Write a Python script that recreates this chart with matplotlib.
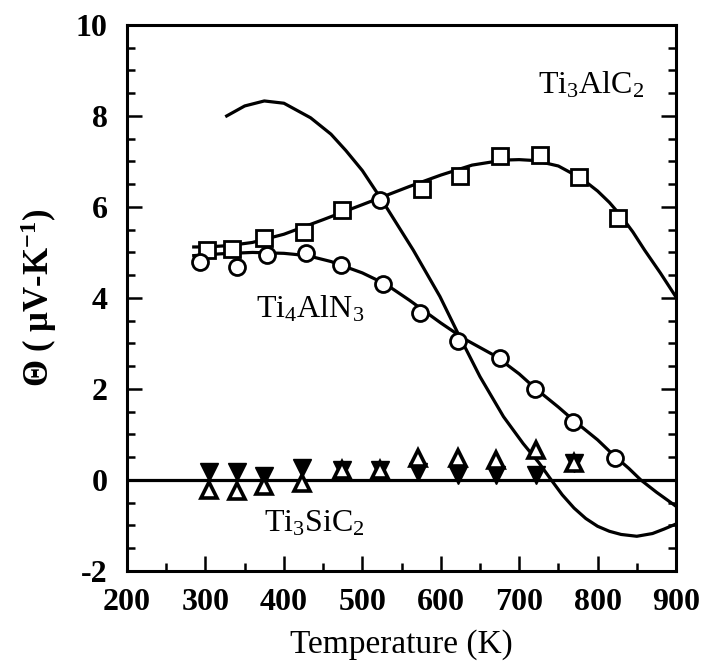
import matplotlib
matplotlib.use("Agg")
import matplotlib.pyplot as plt
from matplotlib.ticker import MultipleLocator

plt.rcParams['font.family'] = ['Liberation Serif', 'DejaVu Serif']
plt.rcParams['mathtext.default'] = 'regular'
plt.rcParams['axes.unicode_minus'] = False

# __ Ti3AlC2 measured points (squares) __
ti3alc2_T = [302, 334, 374, 425, 474, 576, 624, 676, 727, 776, 826]
ti3alc2_S = [5.05, 5.07, 5.31, 5.44, 5.93, 6.40, 6.67, 7.13, 7.15, 6.65, 5.75]
# one point on that curve is drawn as a circle in the original
ti3alc2_odd_T = [522]
ti3alc2_odd_S = [6.15]

# __ Ti3AlC2 fit line __
ti3alc2_fit_T = [285, 300, 330, 360, 400, 450, 500, 530, 560, 600, 640, 680, 700,
                 720, 750, 780, 800, 815, 830, 845, 860, 880, 900]
ti3alc2_fit_S = [5.12, 5.12, 5.15, 5.22, 5.40, 5.72, 6.05, 6.25, 6.45, 6.70, 6.92,
                 7.03, 7.04, 7.02, 6.90, 6.62, 6.35, 6.10, 5.80, 5.45, 5.05, 4.55, 4.02]

# __ Ti4AlN3 measured points (circles) __
ti4aln3_T = [293, 340, 378, 428, 473, 526, 574, 622, 675, 720, 769, 822]
ti4aln3_S = [4.80, 4.69, 4.95, 4.98, 4.73, 4.30, 3.66, 3.05, 2.69, 1.99, 1.28, 0.48]

# __ Ti4AlN3 fit line __
ti4aln3_fit_T = [285, 320, 360, 400, 430, 460, 500, 530, 560, 600, 630, 670, 700,
                 720, 750, 770, 800, 820, 840, 855, 875, 900]
ti4aln3_fit_S = [4.93, 4.97, 5.00, 4.98, 4.93, 4.80, 4.55, 4.30, 3.95, 3.45, 3.10,
                 2.72, 2.33, 2.02, 1.60, 1.30, 0.88, 0.55, 0.25, 0.00, -0.27, -0.58]

# __ third curve (sharp maximum near 375 K) __
big_T = [327, 350, 375, 400, 434, 460, 479, 500, 525, 565, 599, 622, 650, 680, 705,
         725, 740, 755, 770, 785, 800, 815, 830, 850, 870, 885, 900]
big_S = [8.00, 8.22, 8.33, 8.28, 7.96, 7.60, 7.24, 6.80, 6.15, 5.05, 4.03, 3.22,
         2.27, 1.39, 0.80, 0.38, 0.02, -0.33, -0.62, -0.85, -1.02, -1.13, -1.20,
         -1.24, -1.18, -1.08, -0.97]

# __ Ti3SiC2 (two samples) __
sic_down_T = [304, 340, 374, 423, 474, 523, 571, 622, 671, 722, 770]
sic_down_S = [0.18, 0.18, 0.09, 0.26, 0.22, 0.22, 0.18, 0.11, 0.11, 0.11, 0.37]
sic_up_T = [304, 340, 374, 423, 474, 523, 571, 622, 671, 722, 770]
sic_up_S = [-0.23, -0.25, -0.13, -0.06, 0.22, 0.22, 0.48, 0.48, 0.44, 0.66, 0.37]


fig = plt.figure(figsize=(7.06, 6.70), dpi=100)
ax = fig.add_axes([0.180, 0.148, 0.7775, 0.8147])

ax.plot(ti3alc2_fit_T, ti3alc2_fit_S, color='black', lw=2.3)
ax.plot(ti4aln3_fit_T, ti4aln3_fit_S, color='black', lw=2.3)
ax.plot(big_T, big_S, color='black', lw=2.3)
ax.axhline(0, color='black', lw=2.3)

mk = dict(linestyle='none', markerfacecolor='white', markeredgecolor='black',
          markeredgewidth=2.0, markersize=11.5)
ax.plot(ti3alc2_T, ti3alc2_S, marker='s', **mk)
ax.plot(ti3alc2_odd_T, ti3alc2_odd_S, marker='o', **mk)
ax.plot(ti4aln3_T, ti4aln3_S, marker='o', **mk)
ax.plot(sic_down_T, sic_down_S, marker='v', linestyle='none', color='black', markersize=13)
ax.plot(sic_up_T, sic_up_S, marker='^', linestyle='none', markerfacecolor='white',
        markeredgecolor='black', markeredgewidth=2.6, markersize=12)

ax.text(724, 8.5, 'Ti$_3$AlC$_2$', fontsize=23, ha='left', va='baseline')
ax.text(365, 3.56, 'Ti$_4$AlN$_3$', fontsize=23, ha='left', va='baseline')
ax.text(375, -1.13, 'Ti$_3$SiC$_2$', fontsize=23, ha='left', va='baseline')

ax.set_xlim(200, 900)
ax.set_ylim(-2, 10)
ax.xaxis.set_major_locator(MultipleLocator(100))
ax.xaxis.set_minor_locator(MultipleLocator(50))
ax.yaxis.set_major_locator(MultipleLocator(2))
ax.yaxis.set_minor_locator(MultipleLocator(0.5))
ax.tick_params(which='both', direction='in', top=False, right=True, width=1.8)
ax.tick_params(which='major', length=11)
ax.tick_params(which='minor', length=5.5)
ax.tick_params(axis='x', which='major', pad=12)
ax.tick_params(axis='y', which='major', pad=14)
for lbl in ax.get_xticklabels() + ax.get_yticklabels():
    lbl.set_fontsize(23)
    lbl.set_fontweight('bold')
for s in ax.spines.values():
    s.set_linewidth(2.2)

ax.set_xlabel('Temperature (K)', fontsize=24, labelpad=9)
ax.set_ylabel('Θ ( μV-K$^{-1}$)', fontsize=25, fontweight='bold', labelpad=12)

fig.savefig('out.png', dpi=100)
